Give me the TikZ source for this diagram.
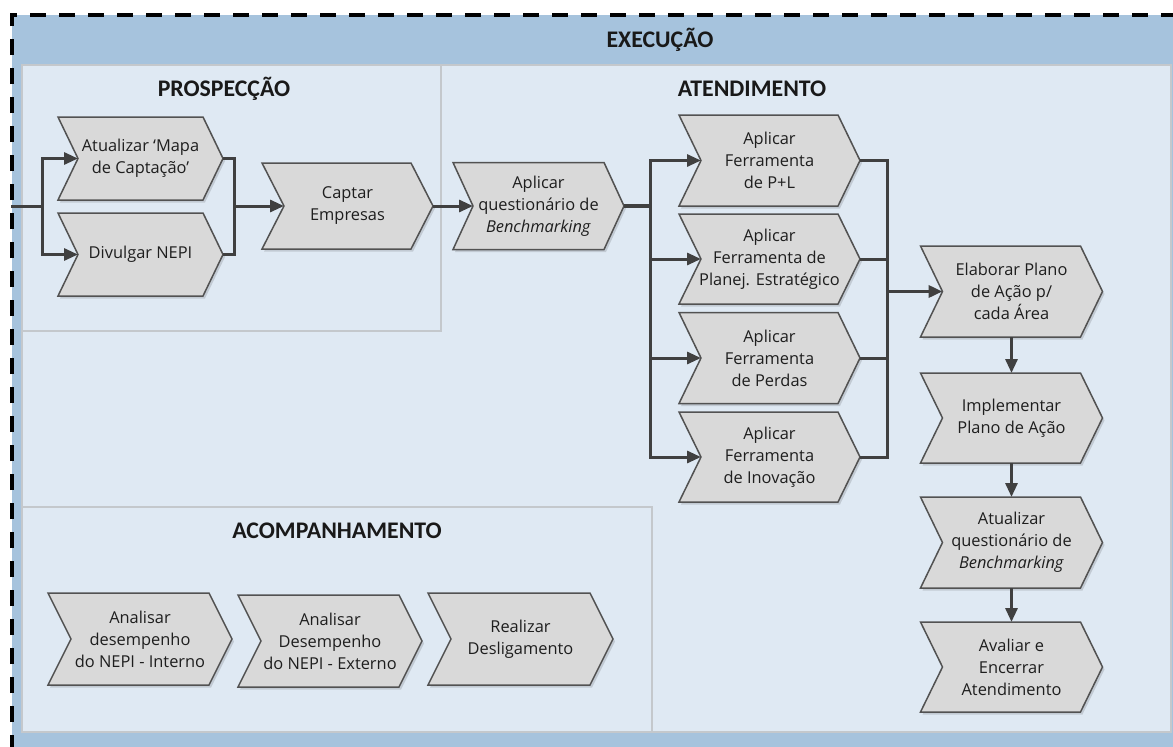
\documentclass[tikz,border=0pt]{standalone}
\usepackage{fontspec}
\setmainfont{Open Sans}
\newfontfamily\titlefont{Carlito}
\usetikzlibrary{arrows.meta}

\definecolor{hdrblue}{RGB}{166,195,221}
\definecolor{panelblue}{RGB}{223,233,243}
\definecolor{panelline}{RGB}{196,200,204}
\definecolor{chevfill}{RGB}{217,217,217}
\definecolor{chevline}{RGB}{82,82,82}
\definecolor{flowline}{RGB}{64,64,64}
\definecolor{txt}{RGB}{30,30,30}

\tikzset{
  chevbox/.style={rectangle, inner sep=0pt, outer sep=0pt},
  chevtext/.style={align=center, text=txt, inner sep=0pt,
    font=\fontsize{16.4}{22}\selectfont},
  chevshape/.style={fill=chevfill, draw=chevline, line width=1.5pt, line join=miter},
  chevshadow/.style={fill=black, opacity=0.13},
  bus/.style={draw=flowline, line width=3pt},
  flow/.style={bus, -{Triangle[length=14pt,width=12pt]}},
  paneltitle/.style={inner sep=0pt, text=black!90,
    font=\titlefont\bfseries\fontsize{23.8}{27}\selectfont},
  panel/.style={fill=panelblue, draw=panelline, line width=1.3pt},
}

% chevron step: name, centre x, centre y, width, height, point depth, text
\newcommand\chevron[7]{%
  \node[chevbox, minimum width=#4pt, minimum height=#5pt] (#1) at (#2,#3) {};
  \fill[chevshadow]
    ([shift={(2pt,-2.5pt)}]#1.north west) --
    ([shift={(2pt-#6pt,-2.5pt)}]#1.north east) --
    ([shift={(2pt,-2.5pt)}]#1.east) --
    ([shift={(2pt-#6pt,-2.5pt)}]#1.south east) --
    ([shift={(2pt,-2.5pt)}]#1.south west) --
    ([shift={(2pt+#6pt,-2.5pt)}]#1.west) -- cycle;
  \path[chevshape] (#1.north west) -- ([xshift=-#6pt]#1.north east) --
    (#1.east) -- ([xshift=-#6pt]#1.south east) -- (#1.south west) --
    ([xshift=#6pt]#1.west) -- cycle;
  \coordinate (#1-in) at ([xshift=#6pt]#1.west);
  \coordinate (#1-out) at (#1.east);
  \node[chevtext] (#1-label) at (#1.center) {#7};
}

\begin{document}
\begin{tikzpicture}[x=1pt, y=-1pt]
  \clip (0,0) rectangle (1173,747);
  \fill[white] (0,0) rectangle (1173,747);

  % outer swimlane
  \fill[hdrblue] (12,15) rectangle (1200,780);
  \draw[black, line width=4pt, dash pattern=on 16pt off 13pt] (12,780) -- (12,15) -- (1200,15);
  \path[panel] (22,65) rectangle (1171,732);
  \node[paneltitle] (execucao) at (660,40) {EXECUÇÃO};

  % sub-panels
  \path[panel] (22,65) rectangle (441,331);
  \path[panel] (22,507) rectangle (652,732);
  \node[paneltitle] (prospeccao) at (224,89) {PROSPECÇÃO};
  \node[paneltitle] (atendimento) at (752,89) {ATENDIMENTO};
  \node[paneltitle] (acompanhamento) at (337,531) {ACOMPANHAMENTO};

  % prospection steps
  \chevron{A1}{140.5}{158.5}{165}{83}{20}{Atualizar ‘Mapa\\de Captação’}
  \chevron{A2}{140.5}{254.5}{165}{83}{20}{Divulgar NEPI}
  \chevron{Cap}{347.5}{206}{171}{86}{22}{Captar\\Empresas}
  \chevron{Ben}{538.5}{206}{171}{87}{20}{Aplicar\\questionário de\\\textit{Benchmarking}}

  % tools
  \chevron{F1}{769.5}{160.5}{181}{91}{22}{Aplicar\\Ferramenta\\de P+L}
  \chevron{F2}{769.5}{259}{181}{90}{22}{Aplicar\\Ferramenta de\\Planej. Estratégico}
  \chevron{F3}{769.5}{358}{181}{91}{22}{Aplicar\\Ferramenta\\de Perdas}
  \chevron{F4}{769.5}{457}{181}{90}{22}{Aplicar\\Ferramenta\\de Inovação}

  % action plan sequence
  \chevron{E1}{1011.5}{291.5}{182}{91}{22}{Elaborar Plano\\de Ação p/\\cada Área}
  \chevron{E2}{1011.5}{418}{182}{90}{22}{Implementar\\Plano de Ação}
  \chevron{E3}{1011.5}{542.5}{182}{91}{22}{Atualizar\\questionário de\\\textit{Benchmarking}}
  \chevron{E4}{1011.5}{667}{182}{90}{22}{Avaliar e\\Encerrar\\Atendimento}

  % follow-up
  \chevron{K1}{140}{639}{184}{92}{23}{Analisar\\desempenho\\do NEPI - Interno}
  \chevron{K2}{330}{641}{184}{92}{23}{Analisar\\Desempenho\\do NEPI - Externo}
  \chevron{K3}{520.5}{639}{185}{92}{23}{Realizar\\Desligamento}

  % connectors
  \coordinate (start) at (11,206);
  \coordinate (split1) at (42,206);
  \coordinate (join1) at (234,206);
  \coordinate (split2) at (650,206);
  \coordinate (join2) at (887,291.5);

  \draw[bus] (start) -- (split1);
  \draw[flow] (split1) |- (A1-in);
  \draw[flow] (split1) |- (A2-in);
  \draw[bus] (A1-out) -| (join1);
  \draw[bus] (A2-out) -| (join1);
  \draw[flow] (join1) -- (Cap-in);
  \draw[flow] (Cap-out) -- (Ben-in);
  \draw[bus, line width=3.6pt] (Ben-out) -- (split2);
  \foreach \f in {F1,F2,F3,F4}{
    \draw[flow] (split2) |- (\f-in);
    \draw[bus] (\f-out) -| (join2);
  }
  \draw[flow, line width=3.6pt] (join2) -- (E1-in);
  \draw[flow] (E1.south) -- (E2.north);
  \draw[flow] (E2.south) -- (E3.north);
  \draw[flow] (E3.south) -- (E4.north);
\end{tikzpicture}
\end{document}
